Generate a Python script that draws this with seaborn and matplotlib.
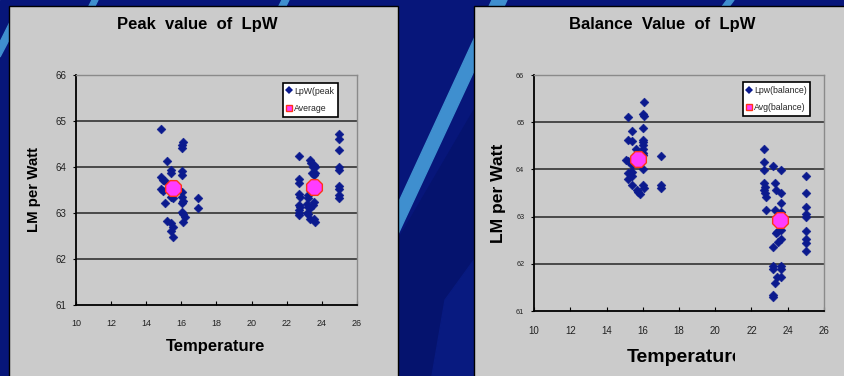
import matplotlib
matplotlib.use("Agg")
import matplotlib.pyplot as plt
from matplotlib.patches import Rectangle, Polygon
from matplotlib.lines import Line2D
import pandas as pd
import seaborn as sns

# ---- Peak LpW readings (temperature, lumens per watt) ----
peak_temp = [14.84, 16.07, 16.05, 16.03, 15.16, 15.39, 15.39, 16.02, 16.02,
             14.84, 14.93, 15.07, 14.84, 14.93, 16.02, 16.02, 16.07, 16.05,
             15.50, 15.41, 15.07, 16.97, 16.97, 16.02, 16.10, 16.20, 16.10,
             15.16, 15.39, 15.50, 15.39, 15.54,
             22.72, 23.33, 23.40, 23.50, 23.56, 23.62, 23.56, 22.72, 22.72,
             22.72, 22.75, 22.72, 22.75, 22.68, 22.72, 22.72, 23.23, 23.23,
             23.17, 23.23, 23.33, 23.48, 23.56, 23.13, 23.23, 23.33, 23.56,
             23.60, 23.30, 23.40, 23.45, 23.62,
             24.99, 24.99, 24.99, 24.99, 24.99, 24.99, 24.99, 24.99, 24.99]
peak_lpw = [64.83, 64.55, 64.48, 64.42, 64.12, 63.93, 63.86, 63.92, 63.83,
            63.79, 63.72, 63.70, 63.52, 63.48, 63.46, 63.35, 63.26, 63.22,
            63.32, 63.35, 63.22, 63.32, 63.10, 63.03, 62.97, 62.92, 62.81,
            62.83, 62.78, 62.70, 62.61, 62.47,
            64.25, 64.15, 64.08, 64.01, 64.04, 64.01, 63.83, 63.73, 63.65,
            63.41, 63.35, 63.17, 63.12, 63.01, 63.07, 62.96, 63.39, 63.32,
            63.19, 63.14, 63.10, 63.17, 63.23, 63.01, 62.97, 62.88, 62.87,
            62.80, 63.50, 63.45, 63.86, 63.88,
            64.71, 64.61, 64.37, 64.01, 63.93, 63.59, 63.52, 63.39, 63.32]
peak_avg_temp = [15.50, 23.55]
peak_avg_lpw = [63.54, 63.57]

# ---- Balance LpW readings ----
bal_temp = [16.09, 16.00, 16.09, 15.17, 16.00, 15.41, 15.19, 15.41, 16.00,
            16.00, 16.03, 16.00, 16.00, 16.03, 15.63, 15.10, 15.19, 15.41,
            15.37, 16.03, 15.17, 15.17, 15.41, 15.41, 15.41, 15.67, 15.76,
            15.85, 16.00, 16.09, 16.99, 16.99, 16.99,
            22.71, 22.71, 22.71, 23.17, 23.63, 25.01, 22.71, 22.75, 22.71,
            22.75, 22.80, 23.30, 23.35, 23.63, 25.01, 23.63, 25.01, 25.01,
            25.01, 22.80, 23.30, 23.63, 23.35, 23.43, 23.60, 23.63, 23.45,
            23.17, 25.01, 25.01, 25.01, 25.01, 23.17, 23.17, 23.63, 23.63,
            23.43, 23.63, 23.30, 23.17, 23.17]
bal_lpw = [65.43, 65.17, 65.13, 65.12, 64.88, 64.81, 64.62, 64.61, 64.62,
           64.57, 64.52, 64.43, 64.34, 64.30, 64.43, 64.20, 64.18, 64.09,
           63.95, 64.00, 63.92, 63.79, 63.95, 63.85, 63.67, 63.56, 63.53,
           63.47, 63.67, 63.60, 64.29, 63.67, 63.60,
           64.43, 64.15, 63.99, 64.07, 63.99, 63.86, 63.71, 63.63, 63.56,
           63.49, 63.42, 63.71, 63.56, 63.51, 63.51, 63.28, 63.21, 63.06,
           63.00, 63.14, 63.14, 63.10, 62.65, 62.68, 62.72, 62.52, 62.47,
           62.35, 62.69, 62.52, 62.45, 62.28, 61.95, 61.90, 61.95, 61.90,
           61.73, 61.73, 61.59, 61.34, 61.30]
bal_avg_temp = [15.76, 23.57]
bal_avg_lpw = [64.23, 62.93]

x_ticks = [10, 12, 14, 16, 18, 20, 22, 24, 26]
y_ticks = [61, 62, 63, 64, 65, 66]

sns.set_theme(style="white")
FONT = ["Liberation Sans", "DejaVu Sans"]
plt.rcParams["font.family"] = FONT

NAVY = "#0b1a8e"
MAGENTA = "#ff3cff"
RED = "#ff3318"
PANEL = "#cbcbcb"

W, H = 845, 376
fig = plt.figure(figsize=(W / 100, H / 100), dpi=100)

# slide background drawn in pixel coordinates (y grows downward)
bg = fig.add_axes([0, 0, 1, 1])
bg.set_xlim(0, W)
bg.set_ylim(H, 0)
bg.axis("off")
bg.add_patch(Rectangle((0, 0), W, H, color="#07167a", zorder=0))
bg.add_patch(Polygon([(398, 376), (398, 240), (474, 110), (474, 376)],
                     closed=True, color="#05136e", zorder=0.5))
bg.add_patch(Polygon([(432, 376), (445, 300), (474, 260), (474, 376)],
                     closed=True, color="#081a80", zorder=0.6))
light = "#3f8fcf"
for poly in ([(372, 260), (386, 260), (507, 0), (492, 0)],
             [(86, 12), (92, 12), (98, 0), (92, 0)],
             [(276, 12), (283, 12), (289, 0), (282, 0)],
             [(718, 12), (725, 12), (734, 0), (727, 0)],
             [(0, 42), (0, 57), (10, 38), (10, 22)]):
    bg.add_patch(Polygon(poly, closed=True, color=light, zorder=0.8))

# the two grey chart panels
bg.add_patch(Rectangle((9, 6), 389, 380, facecolor=PANEL, edgecolor="black",
                       lw=1.0, zorder=1))
bg.add_patch(Rectangle((474, 6), 380, 380, facecolor=PANEL, edgecolor="black",
                       lw=1.0, zorder=1))


def px_axes(left, top, right, bottom):
    return fig.add_axes([left / W, 1 - bottom / H, (right - left) / W,
                         (bottom - top) / H])


def draw_panel(ax, temps, vals, avg_t, avg_v, lab_pts, lab_avg,
               xtick_size, ytick_size, xpad, legend_anchor, leg_size):
    pts = pd.DataFrame({"Temperature": temps, "LpW": vals})
    avg = pd.DataFrame({"Temperature": avg_t, "LpW": avg_v})
    ax.set_facecolor("none")
    sns.scatterplot(data=pts, x="Temperature", y="LpW", ax=ax, marker="D",
                    s=20, color=NAVY, edgecolor=NAVY, linewidth=0.4,
                    zorder=3, legend=False)
    sns.scatterplot(data=avg, x="Temperature", y="LpW", ax=ax, marker="8",
                    s=150, color=MAGENTA, edgecolor=RED, linewidth=1.0,
                    zorder=4, legend=False)
    ax.set_xlim(10, 26)
    ax.set_ylim(61, 66)
    ax.set_xticks(x_ticks)
    ax.set_yticks(y_ticks)
    ax.set_xlabel("")
    ax.set_ylabel("")
    for g in y_ticks[1:-1]:
        ax.axhline(g, color="#262626", lw=1.1, zorder=1)
    for side in ("left", "bottom"):
        ax.spines[side].set_color("black")
        ax.spines[side].set_linewidth(1.3)
    for side in ("top", "right"):
        ax.spines[side].set_color("#8a8a8a")
        ax.spines[side].set_linewidth(1.0)
    ax.tick_params(axis="x", direction="in", length=3, width=0.8,
                   colors="black", labelsize=xtick_size, pad=xpad,
                   bottom=True)
    ax.tick_params(axis="y", direction="out", length=2, width=0.8,
                   colors="black", labelsize=ytick_size, pad=5, left=True)
    for t in ax.get_xticklabels() + ax.get_yticklabels():
        t.set_color("#222222")
    handles = [
        Line2D([], [], ls="none", marker="D", ms=4, color=NAVY, mew=0),
        Line2D([], [], ls="none", marker="s", ms=4.5, mfc=MAGENTA, mec=RED,
               mew=1.0),
    ]
    leg = ax.legend(handles, [lab_pts, lab_avg], loc="upper left",
                    bbox_to_anchor=legend_anchor, frameon=True,
                    fancybox=False, framealpha=1, edgecolor="black",
                    fontsize=leg_size, handlelength=0.6, handletextpad=0.25,
                    borderpad=0.4, labelspacing=1.0, borderaxespad=0)
    leg.get_frame().set_linewidth(1.2)
    leg.get_frame().set_facecolor("white")
    leg.set_zorder(5)


ax1 = px_axes(76, 75, 357, 305)
draw_panel(ax1, peak_temp, peak_lpw, peak_avg_temp, peak_avg_lpw,
           "LpW(peak", "Average", 6.5, 7, 10, (0.737, 0.965), 6.3)

ax2 = px_axes(534, 75, 824, 311)
draw_panel(ax2, bal_temp, bal_lpw, bal_avg_temp, bal_avg_lpw,
           "Lpw(balance)", "Avg(balance)", 7, 5.2, 11, (0.721, 0.970), 6.3)

# titles and axis names
bg.text(197, 24, "Peak  value  of  LpW", ha="center", va="center",
        fontsize=12, fontweight="bold", color="black", zorder=6)
bg.text(662, 24, "Balance  Value  of  LpW", ha="center", va="center",
        fontsize=12, fontweight="bold", color="black", zorder=6)
bg.text(34, 190, "LM per Watt", ha="center", va="center", rotation=90,
        fontsize=10.8, fontweight="bold", color="black", zorder=6)
bg.text(499, 193, "LM per Watt", ha="center", va="center", rotation=90,
        fontsize=12.6, fontweight="bold", color="black", zorder=6)
bg.text(216, 347, "Temperature", ha="center", va="center",
        fontsize=12, fontweight="bold", color="black", zorder=6)
t = bg.text(627, 357, "Temperature", ha="left", va="center",
            fontsize=14, fontweight="bold", color="black", zorder=6)
t.set_clip_on(True)
t.set_clip_path(Rectangle((474, 0), 261, H, transform=bg.transData))

fig.savefig("out.png", dpi=100)
